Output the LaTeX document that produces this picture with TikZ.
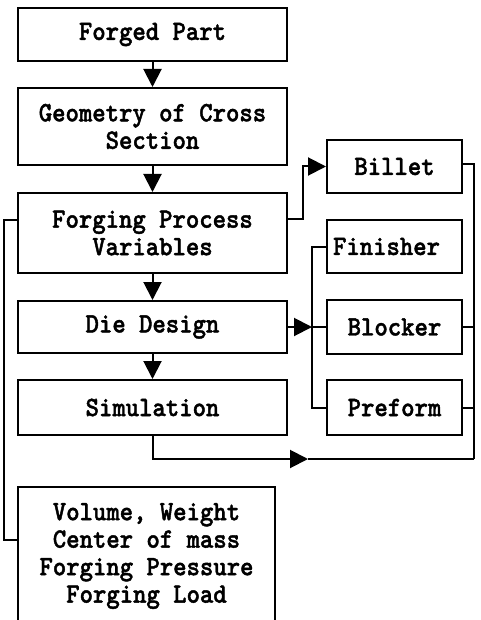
\documentclass[tikz,border=0pt]{standalone}
\usepackage{fontspec}
\newfontfamily\boxfont{lmmonolt10-bold.otf}[FakeBold=1.5,FakeStretch=0.91]
\usetikzlibrary{arrows.meta}
\begin{document}
\begin{tikzpicture}[x=1pt,y=-1pt,>={Triangle[length=18pt,width=18pt]},
  box/.style={draw,line width=2pt,align=center,inner sep=0pt,
    font=\boxfont\fontsize{28}{27.5}\selectfont},
  link/.style={line width=2pt}]
  \clip (0,0) rectangle (480,620);
  % main column
  \node[box,minimum width=269,minimum height=53] (part) at (152.5,34.5) {Forged Part};
  \node[box,minimum width=269,minimum height=77] (geom) at (152.5,126.5) {Geometry of Cross\\Section};
  \node[box,minimum width=269,minimum height=80] (fpv) at (152.5,233) {Forging Process\\Variables};
  \node[box,minimum width=269,minimum height=52] (die) at (152.5,327) {Die Design};
  \node[box,minimum width=269,minimum height=55] (sim) at (152.5,407.5) {Simulation};
  \node[box,minimum width=257,minimum height=138] (vol) at (146.5,556)
    {Volume, Weight\\Center of mass\\Forging Pressure\\Forging Load};
  % right column
  \node[box,minimum width=135,minimum height=53] (billet) at (394.5,166.5) {Billet};
  \node[box,minimum width=135,minimum height=53,text width=123pt,align=left] (fin) at (394.5,246.5) {Finisher};
  \node[box,minimum width=135,minimum height=54] (blk) at (394.5,327) {Blocker};
  \node[box,minimum width=135,minimum height=55] (pre) at (394.5,407.5) {Preform};
  \coordinate (rb) at (474,459);
  \coordinate (tip) at (308,459);
  % connectors
  \draw[link,->] (part) -- (geom);
  \draw[link,->] (geom) -- (fpv);
  \draw[link,->] (fpv) -- (die);
  \draw[link,->] (die) -- (sim);
  \draw[link,->] ([yshift=14pt]fpv.east) -- ++(15,0) |- (billet.west);
  \draw[link] (fin.west) -- ++(-14,0) |- (pre.west);
  \draw[link] (blk.west) -- ++(-14,0);
  \draw[link,->] (die.east) -- ([xshift=-14pt]blk.west);
  \draw[link] ([yshift=2pt]billet.east) -| (rb);
  \draw[link] (blk.east) -- (blk.east -| rb);
  \draw[link] (pre.east) -- (pre.east -| rb);
  \draw[link,->] (sim.south) |- (tip);
  \draw[link] (tip) -- (rb);
  \draw[link] ([yshift=13pt]fpv.west) -- ++(-13,0) |- ([yshift=16pt]vol.west);
\end{tikzpicture}
\end{document}
